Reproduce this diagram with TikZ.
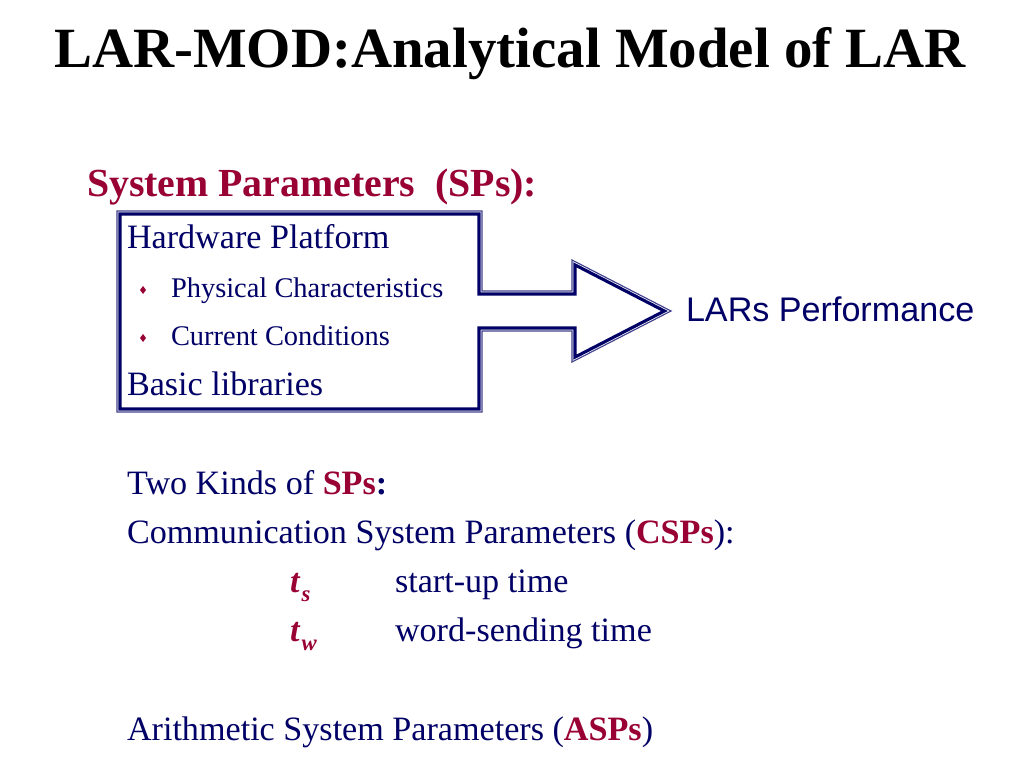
\documentclass[tikz,border=0pt]{standalone}
\usepackage{fontspec}
\setmainfont{Liberation Serif}
\newfontfamily\arialf{Liberation Sans}
\definecolor{navy}{RGB}{0,0,102}
\definecolor{dred}{RGB}{153,0,51}
\begin{document}
\begin{tikzpicture}[x=0.703125pt,y=-0.703125pt,
  txt/.style={anchor=base west,inner sep=0pt,outer sep=0pt,text=navy},
  body/.style={txt,font=\fontsize{24}{29}\selectfont},
  small/.style={txt,font=\fontsize{20}{24}\selectfont},
  thinline/.style={draw=navy!75!white,line width=0.8pt,line join=miter},
  thickline/.style={draw=navy,line width=2.2pt,line join=miter},
  bul/.style={fill=dred}]
\useasboundingbox[fill=white] (0,0) rectangle (1024,768);
% outer thin outline
\coordinate (A) at (117,211); \coordinate (B) at (482,211);
\coordinate (C) at (482,291); \coordinate (D) at (572,291);
\coordinate (E) at (572,260); \coordinate (F) at (671,311);
\coordinate (G) at (572,362); \coordinate (H) at (572,331);
\coordinate (I) at (482,331); \coordinate (J) at (482,412);
\coordinate (K) at (117,412);
% inner thick outline
\coordinate (A2) at (120,214); \coordinate (B2) at (479,214);
\coordinate (C2) at (479,294); \coordinate (D2) at (575,294);
\coordinate (E2) at (575,264.9); \coordinate (F2) at (664.4,311);
\coordinate (G2) at (575,357.1); \coordinate (H2) at (575,328);
\coordinate (I2) at (479,328); \coordinate (J2) at (479,409);
\coordinate (K2) at (120,409);
\draw[thinline] (A)--(B)--(C)--(D)--(E)--(F)--(G)--(H)--(I)--(J)--(K)--cycle;
\draw[thickline] (A2)--(B2)--(C2)--(D2)--(E2)--(F2)--(G2)--(H2)--(I2)--(J2)--(K2)--cycle;

\node[anchor=base,inner sep=0pt,font=\fontsize{40}{48}\selectfont\bfseries] (title) at (510,68) {LAR-MOD:Analytical Model of LAR};
\node[txt,text=dred,font=\fontsize{28}{34}\selectfont\bfseries] (sps) at (87,197) {System Parameters\ \ (SPs):};
\node[body] (hw) at (127,249) {Hardware Platform};
\fill[bul] (143,286) -- (146,290) -- (143,294) -- (140,290) -- cycle;
\node[small] (phys) at (171,298) {Physical Characteristics};
\fill[bul] (143,334) -- (146,338) -- (143,342) -- (140,338) -- cycle;
\node[small] (cur) at (171,346) {Current Conditions};
\node[body] (basic) at (127,395) {Basic libraries};
\node[txt,font=\arialf\fontsize{24}{29}\selectfont] (perf) at (686,321) {LARs Performance};

\node[body] (two) at (127,494) {Two Kinds of \textcolor{dred}{\bfseries SPs}\textbf{:}};
\node[body] (csp) at (127,543) {Communication System Parameters (\textcolor{dred}{\bfseries CSPs}):};
\node[body,text=dred] (ts) at (290,592) {\bfseries\itshape t\kern0.06em\raisebox{-0.28em}{\fontsize{16}{16}\selectfont s}};
\node[body] (tsd) at (395,592) {start-up time};
\node[body,text=dred] (tw) at (290,641) {\bfseries\itshape t\kern0.06em\raisebox{-0.28em}{\fontsize{16}{16}\selectfont w}};
\node[body] (twd) at (395,641) {word-sending time};
\node[body] (asp) at (127,740) {Arithmetic System Parameters (\textcolor{dred}{\bfseries ASPs})};
\end{tikzpicture}
\end{document}
